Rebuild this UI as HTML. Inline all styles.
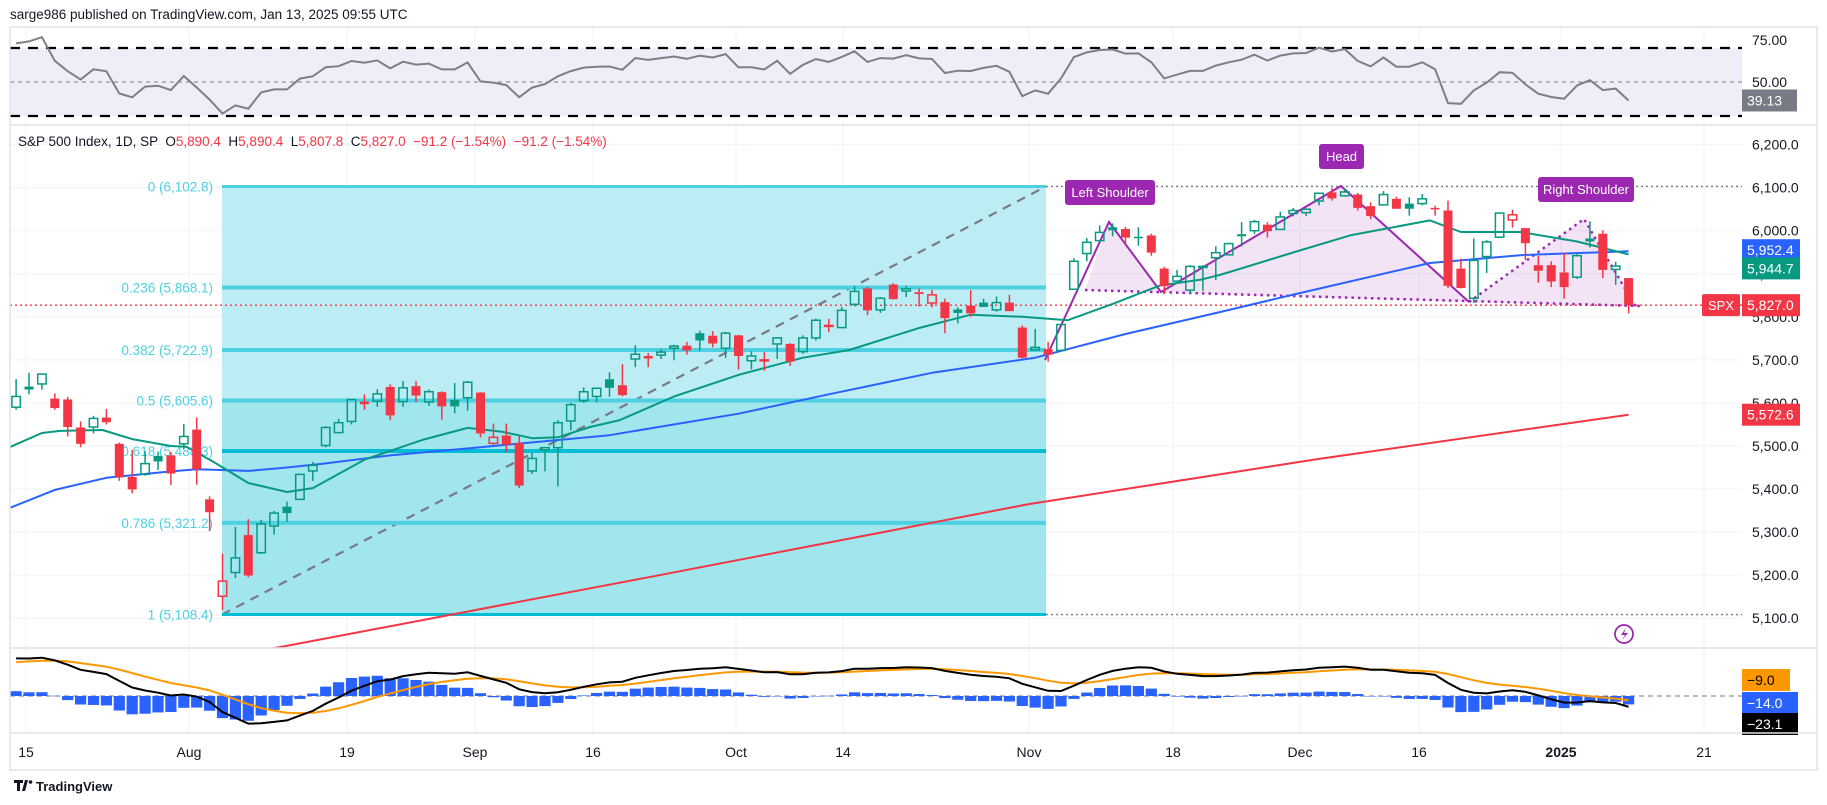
<!DOCTYPE html>
<html><head><meta charset="utf-8">
<style>
html,body{margin:0;padding:0;background:#fff;}
svg{display:block;font-family:"Liberation Sans",sans-serif;}
</style></head>
<body>
<svg id="c" width="1827" height="805" viewBox="0 0 1827 805" xmlns="http://www.w3.org/2000/svg">
<rect x="0" y="0" width="1827" height="805" fill="#fff"/>
<text x="10" y="19" font-size="13.5" fill="#131722">sarge986 published on TradingView.com, Jan 13, 2025 09:55 UTC</text>
<defs><clipPath id="mainClip"><rect x="10" y="125" width="1732" height="523"/></clipPath>
<clipPath id="rsiClip"><rect x="10" y="27" width="1732" height="98"/></clipPath>
<clipPath id="macdClip"><rect x="10" y="648" width="1732" height="85"/></clipPath></defs>
<g id="grid"></g>
<g id="rsi" clip-path="url(#rsiClip)"></g>
<g id="main" clip-path="url(#mainClip)"></g>
<g id="macd" clip-path="url(#macdClip)"></g>
<g id="axes"></g>
<rect x="10" y="27" width="1807" height="743" fill="none" stroke="#e0e3eb" stroke-width="1.5"/>
<line x1="10" y1="125" x2="1817" y2="125" stroke="#e0e3eb" stroke-width="1.5"/>
<line x1="10" y1="648" x2="1817" y2="648" stroke="#e0e3eb" stroke-width="1.5"/>
<line x1="10" y1="733" x2="1817" y2="733" stroke="#e0e3eb" stroke-width="1.5"/>
<text x="18" y="146" font-size="13.5" fill="#131722" xml:space="preserve" style="white-space:pre">S&amp;P 500 Index, 1D, SP  O<tspan fill="#f23645">5,890.4</tspan>  H<tspan fill="#f23645">5,890.4</tspan>  L<tspan fill="#f23645">5,807.8</tspan>  C<tspan fill="#f23645">5,827.0</tspan>  <tspan fill="#f23645">−91.2 (−1.54%)</tspan>  <tspan fill="#f23645">−91.2 (−1.54%)</tspan></text>
<g>
<path d="M14 780 h9 v3 h-3 v8 h-3 v-8 h-3 z M25 780 h3 l-3 11 h-3 z" fill="#131722"/>
<circle cx="30.5" cy="782" r="1.8" fill="#131722"/>
<text x="36" y="791" font-size="13" font-weight="bold" fill="#131722">TradingView</text>
</g>
</svg>
<script>
const opens=[5590,5638,5644,5610,5608,5543,5544,5566,5505,5428,5434,5477,5478,5505,
5538,5376,5151,5206,5293,5252,5314,5359,5376,5442,5501,5531,5557,5603,5604,5637,5603,5639,5602,5625,5607,5612,
5624,5506,5524,5507,5442,5490,5496,5558,5605,5615,5655,5641,5702,5709,5711,5727,5733,5762,5756,5727,
5757,5698,5698,5737,5737,5719,5751,5778,5775,5829,5866,5816,5875,5860,5857,5832,5834,5817,5826,5833,5816,5833,5775,
5723,5725,5722,5864,5947,5977,6008,6004,5986,5989,5912,5883,5862,5917,5937,5944,5992,6000,6014,6003,
6040,6042,6069,6089,6081,6084,6057,6060,6074,6063,6063,6053,6047,5912,5843,5940,5985,6025,6006,5920,5920,
5903,5892,5982,5993,5910,5890];
const highs=[5655,5670,5667,5622,5614,5557,5570,5586,5508,5491,5488,5487,5486,5551,
5566,5383,5250,5312,5330,5328,5349,5371,5436,5463,5546,5563,5608,5620,5632,5643,5651,5651,5631,5627,5646,5651,
5625,5552,5552,5522,5484,5497,5560,5600,5636,5636,5671,5690,5734,5716,5725,5735,5742,5768,5767,5765,
5758,5720,5718,5753,5739,5757,5796,5795,5823,5871,5870,5846,5878,5872,5866,5863,5842,5822,5862,5842,5847,5851,5780,
5772,5742,5783,5936,5983,6012,6017,6009,6008,5993,5916,5909,5920,5920,5964,5972,6020,6025,6020,6044,
6053,6052,6087,6099,6099,6088,6066,6092,6079,6078,6085,6058,6070,5935,5982,5978,6041,6049,6006,5941,5929,
5949,5949,6022,6001,5928,5890];
const lows=[5584,5620,5631,5584,5522,5497,5529,5550,5419,5390,5431,5444,5409,5493,
5410,5302,5119,5193,5195,5249,5294,5324,5376,5419,5497,5530,5550,5584,5591,5560,5591,5602,5593,5561,5576,5582,
5520,5503,5486,5402,5435,5441,5406,5536,5600,5601,5614,5615,5683,5683,5702,5699,5712,5721,5729,5704,
5677,5678,5675,5702,5686,5714,5745,5764,5775,5824,5804,5809,5840,5846,5824,5822,5762,5785,5800,5823,5812,5813,5703,
5723,5696,5722,5864,5929,5976,5987,5969,5965,5942,5853,5878,5854,5860,5885,5944,5963,5992,5984,6003,
6033,6034,6059,6070,6079,6047,6027,6059,6051,6035,6059,6035,5867,5866,5832,5902,5983,6007,5932,5879,5869,
5842,5888,5961,5890,5874,5808];
const closes=[5615,5631,5667,5588,5544,5505,5564,5555,5427,5399,5459,5464,5436,5522,
5446,5346,5186,5240,5199,5319,5344,5344,5434,5455,5543,5554,5608,5597,5621,5571,5635,5617,5626,5592,5592,5648,
5529,5520,5503,5408,5471,5496,5554,5596,5626,5634,5635,5618,5713,5703,5718,5732,5722,5745,5738,5762,
5709,5709,5700,5751,5696,5751,5792,5780,5815,5859,5815,5843,5841,5865,5853,5851,5797,5809,5808,5823,5833,5813,5705,
5729,5712,5782,5929,5973,5996,6001,5984,5985,5949,5871,5894,5917,5917,5949,5970,5987,6021,5999,6032,
6047,6050,6087,6075,6090,6053,6034,6084,6051,6051,6074,6050,5872,5867,5931,5974,6041,6037,5971,5907,5882,
5869,5942,5975,5909,5918,5827];
// moving average knots (day index where Jul 15 = 0, value)
const ma20Idx=[-1.5,1,2.4,5.7,8,11,12.2,14.3,17,20,22,26,30.5,34,36.7,39,41,43.5,45.8,50,55,60,63.6,69,73,77,80.5,84,87.7,90.8,92.3,98.5,102.4,108.6,111,115.6,120,124];
const ma20Val=[5497,5530,5535,5537,5516,5500,5498,5463,5414,5393,5402,5468,5514,5542,5533,5518,5520,5544,5560,5615,5665,5705,5723,5774,5805,5800,5792,5830,5873,5886,5897,5954,5989,6024,5997,5997,5975,5945];
const ma50Idx=[-1.5,2,6,10.7,13,17,19.7,22.6,28,35,45,55,62,70,78,85,92.3,98.5,108.6,115.6,124];
const ma50Val=[5356,5398,5426,5440,5446,5442,5449,5458,5478,5497,5525,5575,5620,5670,5705,5760,5811,5855,5925,5943,5952.4];
const ma200Idx=[10,19.5,48,77.5,100,124];
const ma200Val=[4985,5033,5195,5365,5470,5572.6];
const priceTicks=[6200,6100,6000,5900,5800,5700,5600,5500,5400,5300,5200,5100];
const timeLabels=["15","Aug","19","Sep","16","Oct","14","Nov","18","Dec","16","2025","21"];
const timeLabelX=[26,189,347,475,593,736,843,1029,1173,1300,1419,1561,1704];
const fibRatios=[0,0.236,0.382,0.5,0.618,0.786,1];
const fibPrices=[6102.8,5868.1,5722.9,5605.6,5488.3,5321.2,5108.4];
const rsiSeedGain=20, rsiSeedLoss=7.5;
const ema12Seed=5560, ema26Seed=5480, signalSeed=72;

const NS="http://www.w3.org/2000/svg";
function mk(tag,attrs,parent){const e=document.createElementNS(NS,tag);for(const k in attrs)e.setAttribute(k,attrs[k]);if(parent)parent.appendChild(e);return e;}
const py=p=>350+(5722.9-p)*0.4305;
const xd=d=>29+12.9*d;
const xk=k=>xd(k-1);
const ry=v=>82-(v-50)*1.7;
const my=v=>696-v*0.47;
const hy=v=>696-v*0.6;
const G=document.getElementById('grid'),M=document.getElementById('main'),R=document.getElementById('rsi'),MC=document.getElementById('macd'),A=document.getElementById('axes');
const GREEN="#089981",RED="#f23645";

timeLabelX.forEach((x,i)=>{const l=mk('line',{x1:x,y1:27,x2:x,y2:733,stroke:'#f0f3fa','stroke-width':1},G);

});
priceTicks.forEach(p=>{const l=mk('line',{x1:10,y1:py(p),x2:1742,y2:py(p),stroke:'#f0f3fa','stroke-width':1},G);

});

const fx0=222,fx1=1046;
function fibFill(a,b,col){const r=mk('rect',{x:fx0,y:py(fibPrices[a]),width:fx1-fx0,height:py(fibPrices[b])-py(fibPrices[a]),fill:col},M);

}
fibFill(0,3,'#bdedf4');fibFill(3,6,'#a1e5ed');
const dl=mk('line',{x1:fx0,y1:py(fibPrices[6]),x2:fx1,y2:py(fibPrices[0]),stroke:'#787b86','stroke-width':2.2,'stroke-dasharray':'9 7'},M);


fibRatios.forEach((r,i)=>{const y=py(fibPrices[i]);const col=(r===0.618||r===1)?'#00bcd4':'#4dd0e1';
const t=mk('text',{x:213,y:y+5,'text-anchor':'end','font-size':13.5,fill:'#4dd0e1'},M);t.textContent=r+' ('+fibPrices[i].toLocaleString('en-US',{minimumFractionDigits:1})+')';


const l=mk('line',{x1:fx0,y1:y,x2:fx1,y2:y,stroke:col,'stroke-width':(r===0||r===1)?3:4},M);

});
[[fx1,1742,py(6102.8),'#787b86'],[fx1,1742,py(5108.4),'#787b86'],[10,1742,py(closes[closes.length-1]),RED]].forEach(a=>{
const l=mk('line',{x1:a[0],y1:a[2],x2:a[1],y2:a[2],stroke:a[3],'stroke-width':1.3,'stroke-dasharray':'2 3'},M);

});

const hsFill=[[[1085,290],[1109,222],[1161,292]],[[1161,292],[1341,186],[1469,302]],[[1469,302],[1584,219],[1637,306]]];
hsFill.forEach(t=>{const p=mk('polygon',{points:t.map(q=>q.join(',')).join(' '),fill:'rgba(156,39,176,0.13)'},M);

});
const neck=mk('line',{x1:1085,y1:290,x2:1640,y2:306,stroke:'#9c27b0','stroke-width':2.5,'stroke-dasharray':'2.5 4'},M);


const hsLine=mk('polyline',{points:'1045,360 1109,222 1161,292 1341,186 1469,302',fill:'none',stroke:'#9c27b0','stroke-width':2},M);


const rsLine=mk('polyline',{points:'1469,302 1584,219 1637,309',fill:'none',stroke:'#9c27b0','stroke-width':2.5,'stroke-dasharray':'2.5 4'},M);



function maLine(idx,val,col,name){const pts=idx.map((d,i)=>xd(d).toFixed(1)+','+py(val[i]).toFixed(1)).join(' ');
const l=mk('polyline',{points:pts,fill:'none',stroke:col,'stroke-width':2,'stroke-linejoin':'round'},M);

}
maLine(ma200Idx,ma200Val,'#f23645','ma200-line');
maLine(ma50Idx,ma50Val,'#2962ff','ma50-line');
maLine(ma20Idx,ma20Val,'#089981','ma20-line');

for(let k=0;k<closes.length;k++){
const o=opens[k],h=highs[k],l=lows[k],c=closes[k];const prev=k>0?closes[k-1]:o;
const col=c>=prev?GREEN:RED;const hollow=c>=o;const x=xk(k);
const g=mk('g',{},M);


const top=py(Math.max(o,c)),bot=py(Math.min(o,c));
mk('line',{x1:x,y1:py(h),x2:x,y2:top,stroke:col,'stroke-width':1.5},g);
mk('line',{x1:x,y1:bot,x2:x,y2:py(l),stroke:col,'stroke-width':1.5},g);
if(hollow){mk('rect',{x:x-4.2,y:top,width:8.4,height:Math.max(bot-top,1),fill:'none',stroke:col,'stroke-width':1.5},g);}
else{mk('rect',{x:x-4.5,y:top,width:9,height:Math.max(bot-top,1.5),fill:col},g);}
}

[['Left Shoulder',1065,180,90],['Head',1319,144,45],['Right Shoulder',1538,177,96]].forEach(a=>{
const g=mk('g',{},A);


mk('rect',{x:a[1],y:a[2],width:a[3],height:25,rx:3,fill:'#9c27b0'},g);
const t=mk('text',{x:a[1]+a[3]/2,y:a[2]+17,'text-anchor':'middle','font-size':13,fill:'#fff'},g);t.textContent=a[0];});

const band=mk('rect',{x:10,y:ry(70),width:1732,height:ry(30)-ry(70),fill:'#f0edf9'},R);


[70,30].forEach(v=>{const l=mk('line',{x1:10,y1:ry(v),x2:1742,y2:ry(v),stroke:'#000','stroke-width':2.2,'stroke-dasharray':'10 8'},R);

});
const mid=mk('line',{x1:10,y1:ry(50),x2:1742,y2:ry(50),stroke:'#787b86','stroke-width':1,'stroke-dasharray':'4 4'},R);


let ag=rsiSeedGain,al=rsiSeedLoss;const rsiVals=[100-100/(1+ag/al)];
for(let k=1;k<closes.length;k++){const ch=closes[k]-closes[k-1];ag=(ag*13+Math.max(ch,0))/14;al=(al*13+Math.max(-ch,0))/14;rsiVals.push(100-100/(1+ag/al));}
const rl=mk('polyline',{points:rsiVals.map((v,k)=>xk(k).toFixed(1)+','+ry(v).toFixed(1)).join(' '),fill:'none',stroke:'#7e7e86','stroke-width':2},R);



let e12=ema12Seed,e26=ema26Seed,sig=signalSeed;const macdVals=[],sigVals=[],histVals=[];
for(let k=0;k<closes.length;k++){if(k>0){e12=e12+(closes[k]-e12)*2/13;e26=e26+(closes[k]-e26)*2/27;}
const m=e12-e26;if(k>0)sig=sig+(m-sig)*0.2;macdVals.push(m);sigVals.push(sig);histVals.push(m-sig);}
const z=mk('line',{x1:10,y1:696,x2:1742,y2:696,stroke:'#787b86','stroke-width':1,'stroke-dasharray':'5 4'},MC);


histVals.forEach((v,k)=>{const y=hy(v);const r=mk('rect',{x:xk(k)-5.6,y:Math.min(y,696),width:11.2,height:Math.max(Math.abs(y-696),0.5),fill:'#2962ff'},MC);

});
const sl=mk('polyline',{points:sigVals.map((v,k)=>xk(k).toFixed(1)+','+my(v).toFixed(1)).join(' '),fill:'none',stroke:'#ff9800','stroke-width':2},MC);


const ml=mk('polyline',{points:macdVals.map((v,k)=>xk(k).toFixed(1)+','+my(v).toFixed(1)).join(' '),fill:'none',stroke:'#000','stroke-width':2},MC);



function txt(x,y,s,opt){const t=mk('text',Object.assign({x:x,y:y,'font-size':14,fill:'#131722'},opt||{}),A);t.textContent=s;return t;}
let t;
priceTicks.forEach(p=>{t=txt(1752,py(p)+5,p.toLocaleString('en-US',{minimumFractionDigits:1}));

});
t=txt(1752,45,'75.00');
t=txt(1752,87,'50.00');
timeLabels.forEach((s,i)=>{t=txt(timeLabelX[i],757,s,{'text-anchor':'middle','font-weight':s==='2025'?'bold':'normal'});

});
function tag(y,s,bg,fg,w){const g=mk('g',{},A);


mk('rect',{x:1742,y:y-11,width:w||56,height:22,fill:bg},g);const tt=mk('text',{x:1747,y:y+5,'font-size':14,fill:fg},g);tt.textContent=s;}
const last=closes[closes.length-1];
tag(py(ma50Val[ma50Val.length-1])-1,'5,952.4','#2962ff','#fff',58);
tag(py(ma20Val[ma20Val.length-1])+14,'5,944.7','#089981','#fff',58);
tag(py(last),last.toLocaleString('en-US',{minimumFractionDigits:1}),'#f23645','#fff',58);
tag(py(ma200Val[ma200Val.length-1]),'5,572.6','#f23645','#fff',58);
tag(ry(rsiVals[rsiVals.length-1]),rsiVals[rsiVals.length-1].toFixed(2),'#787b86','#fff',55);
tag(680,'−9.0','#ff9800','#000',48);
tag(703,'−14.0','#2962ff','#fff',56);
tag(724,'−23.1','#000','#fff',56);
const sp=mk('g',{},A);


mk('rect',{x:1702,y:py(last)-11,width:38,height:22,rx:2,fill:'#f23645'},sp);
const st=mk('text',{x:1721,y:py(last)+5,'font-size':13,fill:'#fff','text-anchor':'middle'},sp);st.textContent='SPX';
const lg=mk('g',{},A);


mk('circle',{cx:1624,cy:634,r:9,fill:'#fff',stroke:'#9c27b0','stroke-width':1.8},lg);
mk('path',{d:'M1626 628 L1621 635 L1625 635 L1622 640 L1628 633 L1624 633 Z',fill:'#9c27b0'},lg);
</script>
</body></html>
